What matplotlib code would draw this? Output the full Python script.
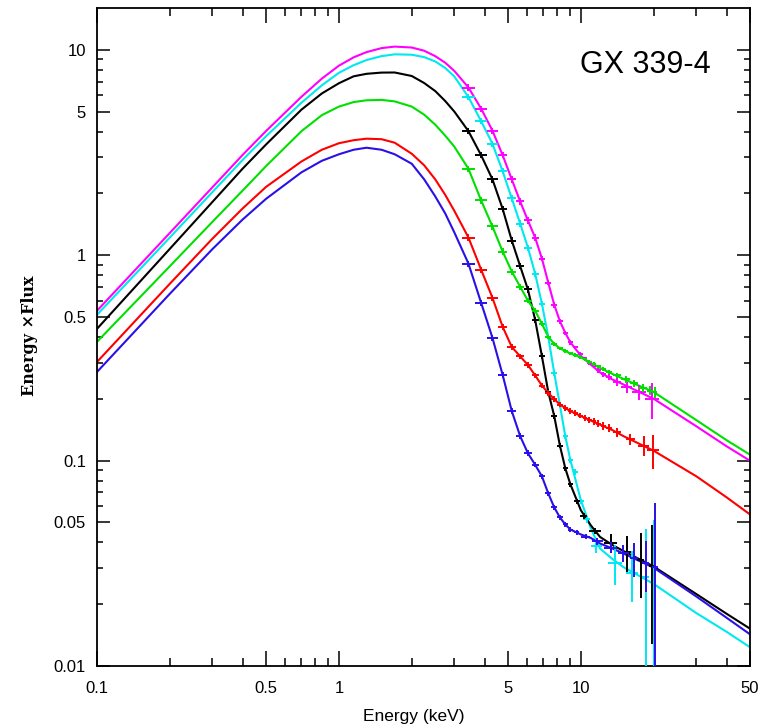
"""Unfolded spectra of GX 339-4: model curves with binned data crosses."""

import matplotlib
matplotlib.use('Agg')
import matplotlib.pyplot as plt
from matplotlib.ticker import FixedLocator, FixedFormatter, NullFormatter
import numpy as np

# Model grid (keV) shared by all six curves
MODEL_E = [0.1, 0.2, 0.3, 0.4, 0.5, 0.7, 0.85, 1.0, 1.15, 1.3, 1.5, 1.7, 2.0,
           2.25, 2.5, 2.75, 3.0, 3.43, 3.87, 4.31, 4.75, 5.18, 5.61, 6.04,
           6.47, 6.90, 7.33, 7.76, 8.19, 8.62, 9.05, 10, 11, 12, 13.5, 15, 20,
           30, 40, 50]

MAG_MODEL = [0.537, 1.285, 2.144, 3.083, 4.030, 5.914, 7.251, 8.381, 9.201,
             9.756, 10.205, 10.378, 10.273, 9.910, 9.326, 8.660, 7.897,
             6.559, 5.178, 4.044, 3.07, 2.343, 1.829, 1.477, 1.220, 0.964,
             0.736, 0.574, 0.4771, 0.419, 0.3767,
             0.324, 0.2931, 0.269, 0.2484, 0.235, 0.200, 0.147, 0.1175, 0.0999]
CYAN_MODEL = [0.513, 1.221, 2.032, 2.915, 3.801, 5.534, 6.723, 7.738, 8.427,
              8.926, 9.326, 9.517, 9.475, 9.222, 8.788, 8.167, 7.421,
              5.893, 4.499, 3.493, 2.565, 1.892, 1.428, 1.090, 0.814, 0.581,
              0.401, 0.267, 0.1865, 0.1316, 0.1005,
              0.0641, 0.04674, 0.0373, 0.03318, 0.0303, 0.0251, 0.0181,
              0.01468, 0.01234]
BLACK_MODEL = [0.4384, 1.075, 1.819, 2.643, 3.466, 5.120, 6.138, 6.884, 7.438,
               7.650, 7.755, 7.764, 7.464, 6.900, 6.305, 5.636, 5.006,
               4.021, 3.069, 2.343, 1.682, 1.180, 0.8855, 0.6814, 0.4852,
               0.3228, 0.2161, 0.1648, 0.1183, 0.0918, 0.0767,
               0.0573, 0.04835, 0.0425, 0.03882, 0.0363, 0.0305, 0.0224,
               0.01797, 0.0152]
GREEN_MODEL = [0.379, 0.8845, 1.455, 2.066, 2.719, 4.021, 4.813, 5.297, 5.572,
               5.685, 5.710, 5.615, 5.297, 4.840, 4.326, 3.822, 3.378,
               2.637, 1.850, 1.381, 1.043, 0.833, 0.703, 0.601, 0.537, 0.464,
               0.401, 0.370, 0.3521, 0.342, 0.333,
               0.3182, 0.2991, 0.2827, 0.2643, 0.2498, 0.2158, 0.1575, 0.1258,
               0.1069]
RED_MODEL = [0.3024, 0.7267, 1.205, 1.691, 2.154, 2.863, 3.265, 3.513, 3.634,
             3.696, 3.675, 3.533, 3.121, 2.743, 2.343, 1.968, 1.644,
             1.220, 0.851, 0.621, 0.4484, 0.358, 0.3218, 0.2924, 0.2600,
             0.2322, 0.2135, 0.1995, 0.1875, 0.1803, 0.1743,
             0.1648, 0.1566, 0.1497, 0.1408, 0.1316, 0.1117, 0.0839, 0.0663,
             0.0547]
BLUE_MODEL = [0.2703, 0.6494, 1.072, 1.494, 1.884, 2.535, 2.885, 3.104, 3.265,
              3.340, 3.265, 3.104, 2.790, 2.343, 1.936, 1.598, 1.291,
              0.9108, 0.587, 0.3962, 0.2614, 0.1743, 0.1316, 0.1087, 0.0955,
              0.0839, 0.0693, 0.0592, 0.0529, 0.0489, 0.0462,
              0.0437, 0.04201, 0.0395, 0.03733, 0.0353, 0.0301, 0.0218,
              0.01718, 0.01427]

# PCA channels common to every spectrum (keV) and their half widths
BASE_E = [3.43, 3.87, 4.31, 4.75, 5.18, 5.61, 6.04, 6.47, 6.90, 7.33, 7.76,
          8.19, 8.62, 9.05]
BASE_DE = [0.215] * 14

# high-energy (rebinned) channels, per spectrum
MAG_E_HI = [9.5, 9.95, 10.4, 10.85, 11.3, 11.8, 12.4, 13.1, 14.1, 15.5, 17.4, 19.7]
MAG_DE_HI = [0.215, 0.215, 0.215, 0.215, 0.23, 0.26, 0.32, 0.4, 0.55, 0.8, 1.1, 1.25]
MAG_F = [6.559, 5.178, 4.044, 3.07, 2.343, 1.829, 1.477, 1.220, 0.964, 0.736,
         0.574, 0.4771, 0.419, 0.3767,
         0.356, 0.331, 0.315, 0.299, 0.2876, 0.275, 0.2628, 0.2555, 0.2415,
         0.2283, 0.2151, 0.1995]
MAG_REL = [0.035, 0.035, 0.035, 0.035, 0.035, 0.035, 0.035, 0.035, 0.03,
           0.03, 0.03, 0.025, 0.025, 0.025,
           0.02, 0.02, 0.02, 0.02, 0.02, 0.025, 0.03, 0.035, 0.045, 0.06,
           0.085, 0.2]

CYAN_E_HI = [9.48, 10.0, 10.6, 11.6, 13.9, 16.3, 18.5, 20.0]
CYAN_DE_HI = [0.23, 0.3, 0.35, 0.6, 0.9, 0.95, 0.6, 0.5]
CYAN_F = [5.893, 4.499, 3.493, 2.565, 1.892, 1.428, 1.090, 0.814, 0.581,
          0.401, 0.267, 0.1865, 0.1316, 0.1005,
          0.0881, 0.0635, 0.0517, 0.0386, 0.0318, 0.0284, 0.0272, 0.0258]
CYAN_REL = [0.035, 0.035, 0.035, 0.035, 0.035, 0.035, 0.035, 0.035, 0.03,
            0.03, 0.03, 0.03, 0.03, 0.03,
            0.03, 0.03, 0.04, 0.08, 0.22, 0.28, 0.7, 1.0]

BLACK_E_HI = [9.63, 10.26, 11.46, 13.3, 15.5, 17.7, 19.6]
BLACK_DE_HI = [0.3, 0.35, 0.65, 0.85, 0.6, 0.6, 0.5]
BLACK_F = [4.021, 3.069, 2.343, 1.682, 1.180, 0.8855, 0.6814, 0.4852, 0.3228,
           0.2161, 0.1648, 0.1183, 0.0918, 0.0767,
           0.0635, 0.0537, 0.0453, 0.0397, 0.0359, 0.0328, 0.0306]
BLACK_REL = [0.035, 0.035, 0.035, 0.035, 0.035, 0.035, 0.035, 0.035, 0.03,
             0.03, 0.03, 0.03, 0.03, 0.03,
             0.03, 0.03, 0.035, 0.11, 0.2, 0.35, 0.58]

GREEN_E_HI = [9.5, 9.95, 10.4, 10.85, 11.3, 11.8, 12.4, 13.1, 14.1, 15.3,
              16.6, 18.0, 19.3, 20.2]
GREEN_DE_HI = [0.215, 0.215, 0.215, 0.215, 0.23, 0.26, 0.3, 0.35, 0.5, 0.6,
               0.65, 0.7, 0.6, 0.45]
GREEN_F = [2.637, 1.850, 1.381, 1.043, 0.833, 0.703, 0.601, 0.537, 0.464,
           0.401, 0.370, 0.3521, 0.342, 0.333,
           0.3272, 0.3200, 0.3111, 0.3024, 0.2957, 0.2875, 0.2795, 0.2703,
           0.2599, 0.2484, 0.2375, 0.2270, 0.2195, 0.2158]
GREEN_REL = [0.035, 0.035, 0.035, 0.035, 0.035, 0.035, 0.03, 0.03, 0.03,
             0.025, 0.025, 0.02, 0.02, 0.02,
             0.02, 0.02, 0.02, 0.02, 0.02, 0.02, 0.02, 0.025, 0.03, 0.035,
             0.04, 0.045, 0.05, 0.06]

RED_E_HI = [9.5, 9.95, 10.4, 10.85, 11.3, 11.8, 12.4, 13.1, 14.1, 16.0, 18.2, 19.9]
RED_DE_HI = [0.215, 0.215, 0.215, 0.215, 0.23, 0.26, 0.32, 0.4, 0.55, 0.7, 1.0, 1.2]
RED_F = [1.220, 0.851, 0.621, 0.4484, 0.358, 0.3218, 0.2924, 0.2600, 0.2322,
         0.2135, 0.1995, 0.1875, 0.1803, 0.1743,
         0.1704, 0.1657, 0.1617, 0.1583, 0.1551, 0.1516, 0.1477, 0.1436,
         0.1376, 0.1272, 0.1183, 0.1124]
RED_REL = [0.035, 0.035, 0.035, 0.035, 0.035, 0.03, 0.03, 0.03, 0.03, 0.03,
           0.03, 0.03, 0.03, 0.03,
           0.03, 0.03, 0.035, 0.035, 0.04, 0.04, 0.045, 0.045, 0.05, 0.06,
           0.11, 0.19]

BLUE_E_HI = [9.6, 10.45, 11.7, 13.3, 15.0, 16.6, 18.5, 20.2]
BLUE_DE_HI = [0.25, 0.45, 0.6, 0.8, 0.8, 0.6, 0.6, 0.6]
BLUE_F = [0.9108, 0.587, 0.3962, 0.2614, 0.1743, 0.1316, 0.1087, 0.0955,
          0.0839, 0.0693, 0.0592, 0.0529, 0.0489, 0.0462,
          0.0447, 0.0427, 0.0404, 0.0377, 0.0355, 0.0335, 0.0319, 0.0302]
BLUE_REL = [0.035, 0.035, 0.035, 0.035, 0.035, 0.035, 0.035, 0.03, 0.03,
            0.03, 0.03, 0.03, 0.03, 0.03,
            0.03, 0.03, 0.035, 0.06, 0.1, 0.19, 0.28, 1.05]

SPECTRA = [
    ('#ff00ff', MAG_MODEL, MAG_E_HI, MAG_DE_HI, MAG_F, MAG_REL),
    ('#00e8f0', CYAN_MODEL, CYAN_E_HI, CYAN_DE_HI, CYAN_F, CYAN_REL),
    ('#000000', BLACK_MODEL, BLACK_E_HI, BLACK_DE_HI, BLACK_F, BLACK_REL),
    ('#00e000', GREEN_MODEL, GREEN_E_HI, GREEN_DE_HI, GREEN_F, GREEN_REL),
    ('#ff0000', RED_MODEL, RED_E_HI, RED_DE_HI, RED_F, RED_REL),
    ('#2a10e8', BLUE_MODEL, BLUE_E_HI, BLUE_DE_HI, BLUE_F, BLUE_REL),
]

W, H = 772, 727
fig = plt.figure(figsize=(W / 100, H / 100), dpi=100)
fig.patch.set_facecolor('white')
ax = fig.add_axes([97 / W, 1 - 666 / H, (750 - 97) / W, (666 - 8) / H])

for color, model, e_hi, de_hi, flux, rel in SPECTRA:
    ax.plot(MODEL_E, model, color=color, lw=1.5, zorder=2,
            solid_joinstyle='round')

for color, model, e_hi, de_hi, flux, rel in SPECTRA:
    e = np.array(BASE_E + e_hi)
    de = np.array(BASE_DE + de_hi)
    f = np.array(flux)
    err = f * np.array(rel)
    lower = np.minimum(err, f * 0.995)
    ax.errorbar(e, f, xerr=de, yerr=[lower, err], fmt='none', ecolor=color,
                elinewidth=1.4, capsize=0, zorder=3)

ax.set_xscale('log')
ax.set_yscale('log')
ax.set_xlim(0.1, 50)
ax.set_ylim(0.01, 16)

# axis ticks: labelled ticks long, the rest short, all pointing inward
x_major = [0.1, 0.5, 1, 5, 10, 50]
x_minor = [0.2, 0.3, 0.4, 0.6, 0.7, 0.8, 0.9, 2, 3, 4, 6, 7, 8, 9, 20, 30, 40]
y_major = [0.01, 0.05, 0.1, 0.5, 1, 5, 10]
y_minor = [0.02, 0.03, 0.04, 0.06, 0.07, 0.08, 0.09, 0.2, 0.3, 0.4, 0.6, 0.7,
           0.8, 0.9, 2, 3, 4, 6, 7, 8, 9]
ax.xaxis.set_major_locator(FixedLocator(x_major))
ax.xaxis.set_major_formatter(FixedFormatter(['0.1', '0.5', '1', '5', '10', '50']))
ax.xaxis.set_minor_locator(FixedLocator(x_minor))
ax.xaxis.set_minor_formatter(NullFormatter())
ax.yaxis.set_major_locator(FixedLocator(y_major))
ax.yaxis.set_major_formatter(FixedFormatter(['0.01', '0.05', '0.1', '0.5', '1', '5', '10']))
ax.yaxis.set_minor_locator(FixedLocator(y_minor))
ax.yaxis.set_minor_formatter(NullFormatter())

ax.tick_params(which='both', direction='in', top=True, right=True, width=1.1,
               color='black')
ax.tick_params(axis='x', which='major', length=11, pad=11, labelsize=12)
ax.tick_params(axis='x', which='minor', length=5.5)
ax.tick_params(axis='y', which='major', length=9.5, pad=8, labelsize=12)
ax.tick_params(axis='y', which='minor', length=4.5)
for lab in ax.get_xticklabels() + ax.get_yticklabels():
    lab.set_fontfamily('Liberation Sans')
for sp in ax.spines.values():
    sp.set_linewidth(1.3)

fig.text(414 / W, 1 - 716 / H, 'Energy (keV)', ha='center', va='center',
         fontsize=12.5, family='Liberation Sans')
fig.text(30 / W, 1 - 336 / H, 'Energy \u00d7Flux', ha='center', va='center',
         rotation=90, fontsize=11.5, fontweight='bold', family='DejaVu Serif')
fig.text(580 / W, 1 - 72.7 / H, 'GX 339-4', ha='left', va='baseline',
         fontsize=22, family='Liberation Sans')

fig.savefig('out.png', dpi=100, facecolor='white')
